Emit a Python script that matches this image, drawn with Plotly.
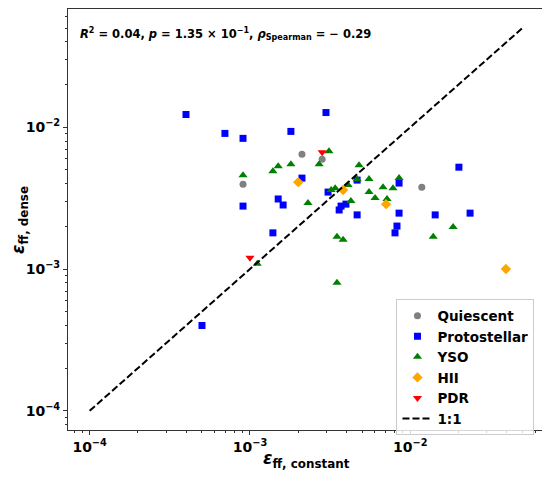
import plotly.graph_objects as go

# star formation efficiency per free-fall time: constant vs dense
quiescent_x = [2.11e-3, 2.82e-3, 9.05e-4, 1.18e-2]
quiescent_y = [6.45e-3, 5.95e-3, 3.97e-3, 3.78e-3]

protostellar_x = [3.99e-4, 2.98e-3, 6.98e-4, 9.05e-4, 1.80e-3, 2.11e-3, 3.07e-3, 4.66e-3,
                  8.51e-3, 2.01e-2, 1.50e-3, 1.61e-3, 9.05e-4, 3.60e-3, 3.70e-3, 3.97e-3,
                  4.66e-3, 8.51e-3, 1.43e-2, 2.36e-2, 8.26e-3, 8.03e-3, 1.39e-3, 5.02e-4]
protostellar_y = [1.23e-2, 1.27e-2, 9.05e-3, 8.35e-3, 9.35e-3, 4.38e-3, 3.49e-3, 4.24e-3,
                  4.04e-3, 5.23e-3, 3.12e-3, 2.83e-3, 2.78e-3, 2.61e-3, 2.78e-3, 2.87e-3,
                  2.41e-3, 2.48e-3, 2.41e-3, 2.48e-3, 2.01e-3, 1.80e-3, 1.80e-3, 4.00e-4]

yso_x = [3.11e-3, 1.50e-3, 1.39e-3, 1.80e-3, 2.70e-3, 9.05e-4, 3.21e-3, 3.40e-3, 4.09e-3,
         4.79e-3, 4.66e-3, 5.53e-3, 6.76e-3, 7.80e-3, 8.51e-3, 5.53e-3, 6.03e-3, 7.16e-3,
         4.26e-3, 2.30e-3, 3.49e-3, 3.81e-3, 3.49e-3, 1.85e-2, 1.39e-2, 1.11e-3]
yso_y = [6.77e-3, 5.31e-3, 4.90e-3, 5.49e-3, 5.49e-3, 4.59e-3, 3.61e-3, 3.72e-3, 3.91e-3,
         5.40e-3, 4.30e-3, 4.31e-3, 3.78e-3, 3.72e-3, 4.38e-3, 3.49e-3, 3.17e-3, 3.12e-3,
         3.02e-3, 2.92e-3, 1.69e-3, 1.61e-3, 8.02e-4, 1.98e-3, 1.69e-3, 1.09e-3]

hii_x = [2.00e-3, 3.81e-3, 7.06e-3, 3.95e-2]
hii_y = [4.10e-3, 3.61e-3, 2.87e-3, 1.00e-3]

pdr_x = [2.82e-3, 1.00e-3]
pdr_y = [6.66e-3, 1.20e-3]

one_to_one = [1e-4, 5e-2]

tick_vals = [1e-4, 1e-3, 1e-2]
tick_text = ["10<sup>−4</sup>", "10<sup>−3</sup>", "10<sup>−2</sup>"]
minor_vals = [m * 10 ** e for e in (-5, -4, -3, -2) for m in range(2, 10)]

stats_text = ("<b><i>R</i><sup>2</sup> = 0.04, <i>p</i> = 1.35 × 10<sup>−1</sup>, "
              "<i>ρ</i><sub>Spearman</sub> = − 0.29</b>")
x_title = "<b><i>ε</i><sub>ff, constant</sub></b>"
y_title = "<b><i>ε</i><sub>ff, dense</sub></b>"

fig = go.Figure()
fig.add_trace(go.Scatter(x=quiescent_x, y=quiescent_y, mode="markers", name="Quiescent",
                         marker=dict(symbol="circle", size=7, color="gray")))
fig.add_trace(go.Scatter(x=protostellar_x, y=protostellar_y, mode="markers", name="Protostellar",
                         marker=dict(symbol="square", size=7, color="blue")))
fig.add_trace(go.Scatter(x=yso_x, y=yso_y, mode="markers", name="YSO",
                         marker=dict(symbol="triangle-up", size=8, color="green")))
fig.add_trace(go.Scatter(x=hii_x, y=hii_y, mode="markers", name="HII",
                         marker=dict(symbol="diamond", size=8, color="orange")))
fig.add_trace(go.Scatter(x=pdr_x, y=pdr_y, mode="markers", name="PDR",
                         marker=dict(symbol="triangle-down", size=8, color="red")))
fig.add_trace(go.Scatter(x=one_to_one, y=one_to_one, mode="lines", name="1:1",
                         line=dict(color="black", width=2, dash="7px,3px")))

axis_style = dict(type="log", range=[-4.135, -1.166], tickmode="array",
                  tickvals=tick_vals, ticktext=tick_text,
                  tickfont=dict(size=14, weight="bold", color="black"),
                  ticks="outside", ticklen=4, tickcolor="#333",
                  minor=dict(tickvals=minor_vals, ticks="outside", ticklen=2, tickcolor="#333"),
                  showgrid=False, zeroline=False, showline=True, linecolor="#333",
                  linewidth=1, mirror=True, automargin=False)

fig.update_xaxes(axis_style)
fig.update_yaxes(axis_style)

# axis titles placed as annotations so they sit where the original has them
fig.add_annotation(x=0.5, y=-0.071, xref="paper", yref="paper", xanchor="center",
                   yanchor="middle", text=x_title, showarrow=False,
                   font=dict(size=17, color="black"))
fig.add_annotation(x=-0.102, y=0.5, xref="paper", yref="paper", xanchor="center",
                   yanchor="middle", text=y_title, showarrow=False, textangle=-90,
                   font=dict(size=17, color="black"))

fig.add_annotation(x=0.021, y=0.941, xref="paper", yref="paper", xanchor="left",
                   yanchor="middle", text=stats_text, showarrow=False,
                   font=dict(size=11.5, color="black"))

# page body has an 8px margin, so the figure is a bit smaller than the window
fig.update_layout(
    width=542, height=469,
    margin=dict(l=60, r=6, t=1, b=47),
    plot_bgcolor="white", paper_bgcolor="white",
    font=dict(family="DejaVu Sans"),
    legend=dict(x=0.98, y=0.31, xanchor="right", yanchor="top",
                font=dict(size=13.5, weight="bold", color="black"),
                tracegroupgap=2,
                bgcolor="rgba(255,255,255,0.8)", bordercolor="#ccc", borderwidth=1),
)

fig.write_html("out.html")
